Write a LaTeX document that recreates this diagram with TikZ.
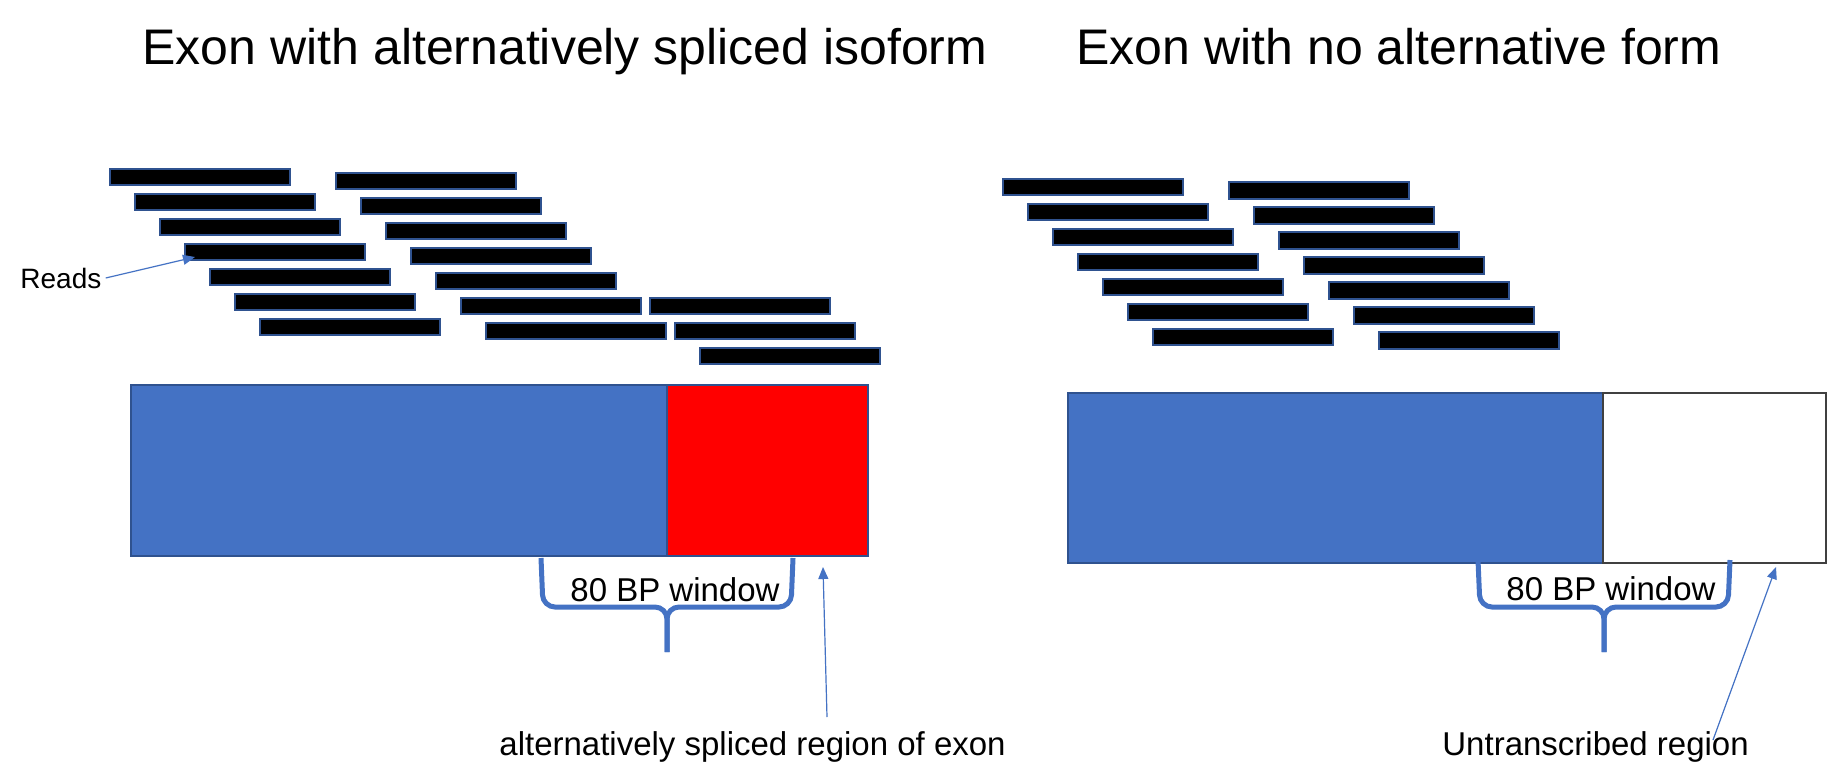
\documentclass[tikz,border=0pt]{standalone}
\usepackage{fontspec}
\setmainfont{Liberation Sans}
\usetikzlibrary{arrows.meta}
\definecolor{exonblue}{HTML}{4472C4}
\definecolor{edgeblue}{HTML}{2F528F}

\begin{document}
\begin{tikzpicture}[
    x=0.5pt, y=-0.5pt,
    % styles
    read/.style={fill=black, draw=edgeblue, line width=0.9pt},
    exon/.style={fill=exonblue, draw=edgeblue, line width=0.6pt},
    window/.style={draw=exonblue, line width=2.5pt, rounded corners=6pt},
    pointer/.style={draw=exonblue, line width=0.6pt,
      -{Triangle[length=6pt, width=5pt]}},
    heading/.style={font=\fontsize{25}{30}\selectfont, inner sep=0pt, anchor=base},
    note/.style={font=\fontsize{16.5}{20}\selectfont, inner sep=0pt, anchor=base west}]

    % frame
    \useasboundingbox (0,0) rectangle (1827,783);
    \fill [white] (0,0) rectangle (1827,783);

    % titles
    \node [heading] (titleL) at (565,64) {Exon with alternatively spliced isoform};
    \node [heading] (titleR) at (1399,64) {Exon with no alternative form};

    % reads over the spliced exon
    \foreach \k in {0,...,6} {
      \draw [read] ({110+25*\k}, {169+25*\k}) rectangle ++(180,16);
      \draw [read] ({336+25*\k}, {173+25*\k}) rectangle ++(180,16);
    }
    \foreach \k in {0,1,2} {
      \draw [read] ({650+25*\k}, {298+25*\k}) rectangle ++(180,16);
    }
    % reads over the plain exon
    \foreach \k in {0,...,6} {
      \draw [read] ({1003+25*\k}, {179+25*\k}) rectangle ++(180,16);
      \draw [read] ({1229+25*\k}, {182+25*\k}) rectangle ++(180,17);
    }

    % exons
    \draw [exon] (131,385) rectangle (667,556);
    \draw [edgeblue, line width=0.6pt, fill=red] (667,385) rectangle (868,556);
    \draw [exon] (1068,393) rectangle (1603,563);
    \draw [black!75, line width=0.6pt, fill=white] (1603,393) rectangle (1826,563);

    % windows
    \foreach \c/\t in {667/558, 1604/560} {
      \draw [window] ({\c-126}, \t) -- ({\c-124}, 607) -- (\c, 607) -- (\c, 652);
      \draw [window] ({\c+126}, \t) -- ({\c+124}, 607) -- (\c, 607) -- (\c, 652);
    }
    \node [note, anchor=base] (winL) at (675,601) {80 BP window};
    \node [note, anchor=base] (winR) at (1611,600) {80 BP window};

    % labels and pointers
    \node [note, font=\fontsize{14}{17}\selectfont] (reads) at (20,288) {Reads};
    \node [note] (alt) at (499,755) {alternatively spliced region of exon};
    \node [note] (untr) at (1442,755) {Untranscribed region};
    \coordinate (readtip) at (195,257);
    \coordinate (altfoot) at (827,717);
    \coordinate (alttip) at (823,567);
    \coordinate (untrfoot) at (1713,740);
    \coordinate (untrtip) at (1776,567);
    \draw [pointer] ([xshift=2pt]reads.east) -- (readtip);
    \draw [pointer] (altfoot) -- (alttip);
    \draw [pointer] (untrfoot) -- (untrtip);

  \end{tikzpicture}
\end{document}
